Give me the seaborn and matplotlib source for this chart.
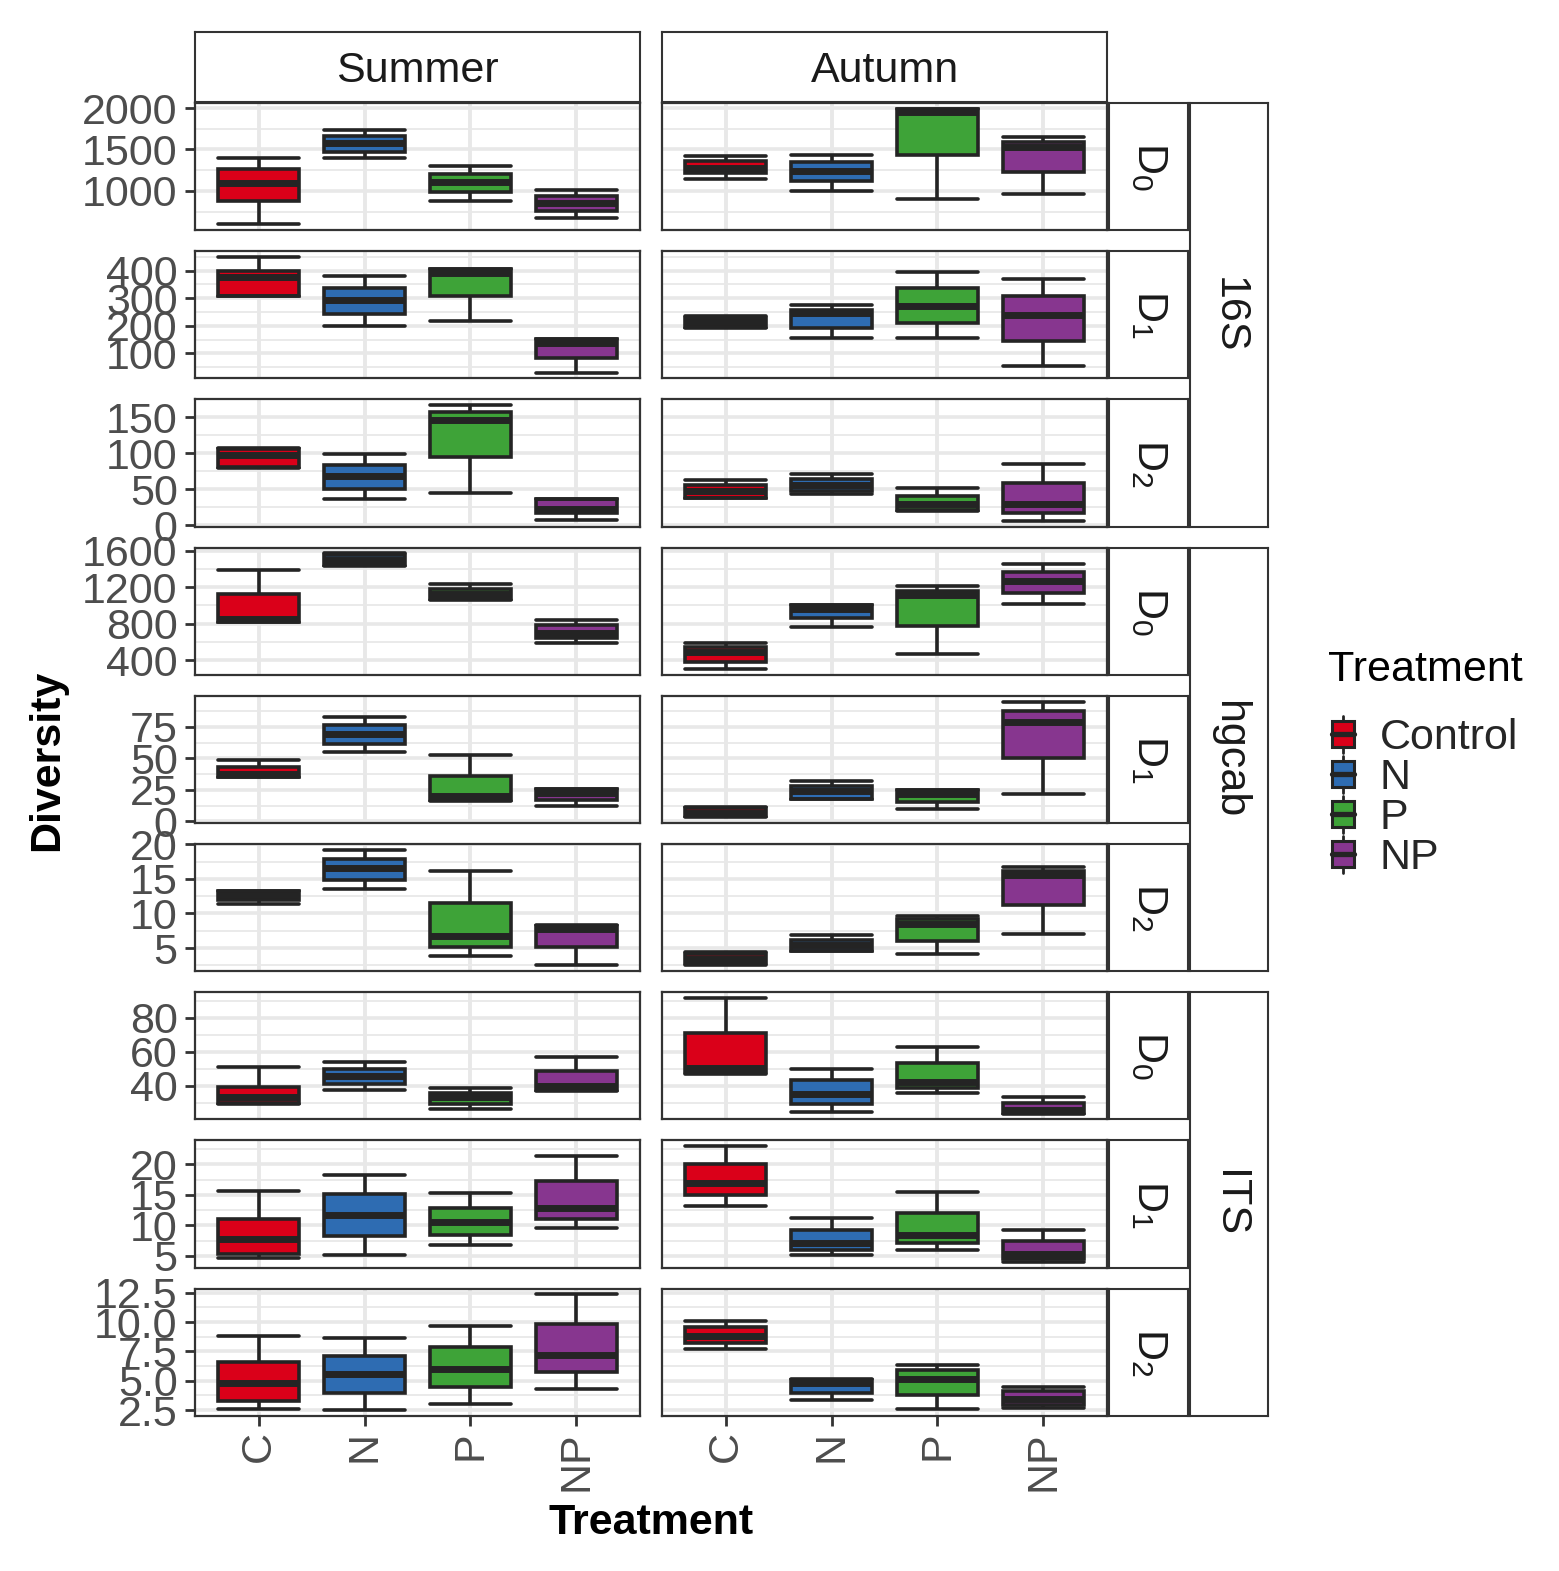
import numpy as np
import pandas as pd
import matplotlib
matplotlib.use("Agg")
import matplotlib.pyplot as plt
import seaborn as sns
from matplotlib.ticker import FixedLocator, AutoMinorLocator
from matplotlib.legend_handler import HandlerBase
from matplotlib.patches import Patch, Rectangle
from matplotlib.lines import Line2D

# ---------------------------------
# DATA
# each box: [whisker low, Q1, median, Q3, whisker high], boxes in order C, N, P, NP
# ---------------------------------

seasons = ["Summer", "Autumn"]
genes = ["16S", "hgcab", "ITS"]
orders = ["D_0", "D_1", "D_2"]
treatments = ["C", "N", "P", "NP"]
legend_labels = ["Control", "N", "P", "NP"]
colors = ["#DA0019", "#2E6CB2", "#3EA338", "#87368F"]

s16_d0_summer = [[594, 874, 1098, 1265, 1402], [1399, 1467, 1573, 1663, 1736],
                 [878, 984, 1106, 1207, 1297], [667, 752, 850, 943, 1012]]
s16_d0_autumn = [[1146, 1216, 1280, 1358, 1419], [996, 1113, 1240, 1350, 1439],
                 [898, 1431, 1955, 1990, 1992], [963, 1224, 1533, 1594, 1655]]
s16_d1_summer = [[308, 309, 375, 399, 449], [200, 244, 292, 337, 380],
                 [217, 306, 390, 406, 407], [30, 83, 139, 151, 152]]
s16_d1_autumn = [[190, 197, 212, 228, 235], [154, 193, 245, 258, 276],
                 [155, 211, 271, 336, 393], [54, 145, 239, 307, 371]]
s16_d2_summer = [[80, 81, 98, 106, 107], [36, 50.5, 68, 84, 99],
                 [45, 94, 146, 156.5, 166.5], [6.5, 16.5, 22, 35.8, 36]]
s16_d2_autumn = [[37, 38, 48, 55.6, 62], [42.7, 47, 56.4, 64, 71],
                 [20, 21, 29, 41, 52], [6, 16.5, 29, 58, 85]]

hg_d0_summer = [[815, 822, 850, 1127, 1388], [1430, 1445, 1500, 1555, 1570],
                [1060, 1068, 1130, 1180, 1230], [593, 645, 700, 780, 844]]
hg_d0_autumn = [[303, 385, 490, 547, 586], [765, 858, 966, 1005, 1008],
                [464, 769, 1109, 1163, 1213], [1012, 1138, 1270, 1367, 1449]]
hg_d1_summer = [[35, 35.5, 37.5, 43.4, 48.6], [54.8, 61, 69.3, 76.2, 83],
                [16.5, 16.8, 20, 36.2, 52.5], [11.8, 16.8, 22.5, 25.3, 25.5]]
hg_d1_autumn = [[3.3, 4.0, 7.0, 10.3, 11.6], [17.5, 17.6, 24, 28.4, 31.8],
                [9.8, 15, 22, 24.8, 25], [21.9, 49.9, 78.9, 87.4, 95]]
hg_d2_summer = [[11.4, 12.0, 12.6, 13.2, 13.3], [13.5, 14.9, 16.6, 17.9, 19.2],
                [3.9, 5.2, 6.8, 11.5, 16.2], [2.5, 5.2, 7.7, 8.2, 8.3]]
hg_d2_autumn = [[2.6, 2.9, 3.4, 4.1, 4.4], [4.6, 4.65, 5.5, 6.1, 6.9],
                [4.1, 6.05, 8.5, 9.15, 9.6], [7.1, 11.2, 15.5, 16.2, 16.7]]

its_d0_summer = [[29, 30, 33, 39.2, 51], [37.3, 40.7, 45.5, 49.9, 54],
                 [26.1, 29.2, 33.4, 35.9, 38.4], [37, 37.3, 40, 48.8, 56.8]]
its_d0_autumn = [[46.8, 48, 50.3, 71, 91.5], [24.2, 29.2, 35.2, 43, 49.9],
                 [35.9, 38.4, 42, 53, 62.8], [23.5, 23.8, 25.8, 30, 33.2]]
its_d1_summer = [[4.7, 5.3, 7.7, 11.1, 15.7], [5.1, 8.2, 11.7, 15.1, 18.3],
                 [6.7, 8.45, 10.6, 12.9, 15.3], [9.6, 11.1, 12.8, 17.2, 21.4]]
its_d1_autumn = [[13.1, 15, 17, 20, 23], [5.1, 6.0, 7.1, 9.3, 11.2],
                 [6.0, 7.1, 8.45, 12.1, 15.5], [4.0, 4.4, 5.3, 7.4, 9.3]]
its_d2_summer = [[2.6, 3.24, 4.8, 6.6, 8.8], [2.5, 3.94, 5.6, 7.1, 8.6],
                 [3.0, 4.5, 6.04, 7.87, 9.7], [4.27, 5.7, 7.17, 9.83, 12.36]]
its_d2_autumn = [[7.73, 8.23, 8.82, 9.55, 10.1], [3.38, 3.94, 4.84, 5.1, 5.15],
                 [2.6, 3.8, 5.12, 5.9, 6.33], [2.63, 2.96, 3.47, 4.08, 4.5]]

# y ticks per facet row
yticks_16s_d0 = [1000, 1500, 2000]
yticks_16s_d1 = [100, 200, 300, 400]
yticks_16s_d2 = [0, 50, 100, 150]
yticks_hg_d0 = [400, 800, 1200, 1600]
yticks_hg_d1 = [0, 25, 50, 75]
yticks_hg_d2 = [5, 10, 15, 20]
yticks_its_d0 = [40, 60, 80]
yticks_its_d1 = [5, 10, 15, 20]
yticks_its_d2 = [2.5, 5.0, 7.5, 10.0, 12.5]
ylabels_its_d2 = ["2.5", "5.0", "7.5", "10.0", "12.5"]

rows = [
    ("16S", "D_0", s16_d0_summer, s16_d0_autumn, yticks_16s_d0, None),
    ("16S", "D_1", s16_d1_summer, s16_d1_autumn, yticks_16s_d1, None),
    ("16S", "D_2", s16_d2_summer, s16_d2_autumn, yticks_16s_d2, None),
    ("hgcab", "D_0", hg_d0_summer, hg_d0_autumn, yticks_hg_d0, None),
    ("hgcab", "D_1", hg_d1_summer, hg_d1_autumn, yticks_hg_d1, None),
    ("hgcab", "D_2", hg_d2_summer, hg_d2_autumn, yticks_hg_d2, None),
    ("ITS", "D_0", its_d0_summer, its_d0_autumn, yticks_its_d0, None),
    ("ITS", "D_1", its_d1_summer, its_d1_autumn, yticks_its_d1, None),
    ("ITS", "D_2", its_d2_summer, its_d2_autumn, yticks_its_d2, ylabels_its_d2),
]

# long table: five values per box -> quartiles/whiskers reproduce the summary
records = []
for gene, order, summer, autumn, _, _ in rows:
    for season, boxes in zip(seasons, [summer, autumn]):
        for trt, stats in zip(treatments, boxes):
            for v in stats:
                records.append((gene, order, season, trt, v))
df = pd.DataFrame(records, columns=["Gene", "Order", "Season", "Treatment", "Diversity"])

# ---------------------------------
# STYLE
# ---------------------------------

sns.set_style("white")
plt.rcParams["font.family"] = ["Liberation Sans", "DejaVu Sans"]
plt.rcParams["mathtext.fontset"] = "custom"
plt.rcParams["mathtext.rm"] = "Liberation Sans"
plt.rcParams["mathtext.it"] = "Liberation Sans:italic"

DARK = "#242424"
BORDER = "#333333"
GRID = "#E8E8E8"
TICKTXT = "#4D4D4D"
FS = 31

W, H = 1559, 1571


def frac(x0, y0, x1, y1):
    return [x0 / W, 1 - y1 / H, (x1 - x0) / W, (y1 - y0) / H]


def strip(rect, text, rotation=0, ty=0.5):
    sax = fig.add_axes(rect)
    sax.set_xticks([])
    sax.set_yticks([])
    sax.set_facecolor("white")
    for sp in sax.spines.values():
        sp.set_color(BORDER)
        sp.set_linewidth(1.5)
    sax.text(0.5, ty, text, rotation=rotation, ha="center", va="center",
             fontsize=FS, color="#1A1A1A", transform=sax.transAxes)


class BoxKey(HandlerBase):
    def create_artists(self, legend, orig, xd, yd, w, h, fs, trans):
        x0, y0 = -xd, -yd
        cx = x0 + w / 2
        wl = Line2D([cx, cx], [y0 - 0.15 * h, y0 + 1.15 * h], color=DARK, lw=2, transform=trans)
        rect = Rectangle((x0, y0 + 0.05 * h), w, 0.9 * h, facecolor=orig.get_facecolor(),
                         edgecolor=DARK, lw=2.2, transform=trans)
        med = Line2D([x0, x0 + w], [y0 + h / 2] * 2, color=DARK, lw=3.8, transform=trans)
        return [wl, rect, med]


fig = plt.figure(figsize=(W / 100, H / 100), dpi=100)

col_x = [(195, 640), (662, 1107)]
row_h, row_gap, top0 = 127.2, 21.0, 103

for r, (gene, order, summer, autumn, yt, ylab) in enumerate(rows):
    y0 = top0 + r * (row_h + row_gap)
    y1 = y0 + row_h
    allv = np.array(summer + autumn).ravel()
    lo, hi = allv.min(), allv.max()
    pad = 0.05 * (hi - lo)
    for c, season in enumerate(seasons):
        ax = fig.add_axes(frac(col_x[c][0], y0, col_x[c][1], y1))
        sub = df[(df["Gene"] == gene) & (df["Order"] == order) & (df["Season"] == season)]
        sns.boxplot(data=sub, x="Treatment", y="Diversity", hue="Treatment",
                    order=treatments, hue_order=treatments, palette=colors,
                    saturation=1, width=0.76, whis=(0, 100), linewidth=2.6,
                    linecolor=DARK, medianprops=dict(linewidth=5, color=DARK),
                    capwidths=0.76, legend=False, ax=ax)
        ax.set_xlabel("")
        ax.set_ylabel("")
        ax.set_xlim(-0.6, 3.6)
        ax.set_ylim(lo - pad, hi + pad)
        ax.yaxis.set_major_locator(FixedLocator(yt))
        ax.yaxis.set_minor_locator(AutoMinorLocator(2))
        ax.set_axisbelow(True)
        ax.xaxis.grid(True, which="major", color=GRID, lw=2.8)
        ax.yaxis.grid(True, which="major", color=GRID, lw=2.6)
        ax.yaxis.grid(True, which="minor", color=GRID, lw=1.3)
        ax.tick_params(which="minor", length=0)
        for sp in ax.spines.values():
            sp.set_color(BORDER)
            sp.set_linewidth(1.6)
        if c == 0:
            if ylab is not None:
                ax.set_yticklabels(ylab)
            ax.tick_params(axis="y", length=7, width=2, color=BORDER,
                           labelsize=FS, labelcolor=TICKTXT, pad=5.5, left=True)
        else:
            ax.tick_params(axis="y", length=0, labelleft=False)
        if r == len(rows) - 1:
            ax.tick_params(axis="x", length=7, width=2, color=BORDER, bottom=True,
                           labelsize=FS, labelcolor=TICKTXT, labelrotation=90, pad=4)
        else:
            ax.tick_params(axis="x", length=0, labelbottom=False)

    # order strip on the right
    strip(frac(1109, y0, 1188, y1), "$\\mathrm{" + order + "}$", rotation=-90)

# gene strips spanning three rows
for g, gene in enumerate(genes):
    gy0 = top0 + 3 * g * (row_h + row_gap)
    gy1 = gy0 + 3 * row_h + 2 * row_gap
    strip(frac(1190, gy0, 1268, gy1), gene, rotation=-90)

# season strips on top
for c, season in enumerate(seasons):
    strip(frac(col_x[c][0], 32, col_x[c][1], 102), season, ty=0.45)

fig.text(47 / W, 1 - 760 / H, "Diversity", rotation=90, fontweight="bold",
         fontsize=FS, ha="center", va="center", color="black")
fig.text(651 / W, 1 - 1523 / H, "Treatment", fontweight="bold",
         fontsize=FS, ha="center", va="center", color="black")

# legend: title as text, keys drawn with a box glyph
fig.text(1328 / W, 1 - 670 / H, "Treatment", fontsize=FS, ha="left",
         va="center", color="black")
handles = [Patch(facecolor=col, edgecolor=DARK) for col in colors]
fig.legend(handles, legend_labels, loc="upper left",
           bbox_to_anchor=(1298 / W, 1 - 684 / H), frameon=False,
           fontsize=FS, handler_map={Patch: BoxKey()},
           handlelength=0.5, handleheight=0.65, labelspacing=0.0,
           handletextpad=0.6, borderpad=0.3)

fig.savefig("out.png", dpi=100)
